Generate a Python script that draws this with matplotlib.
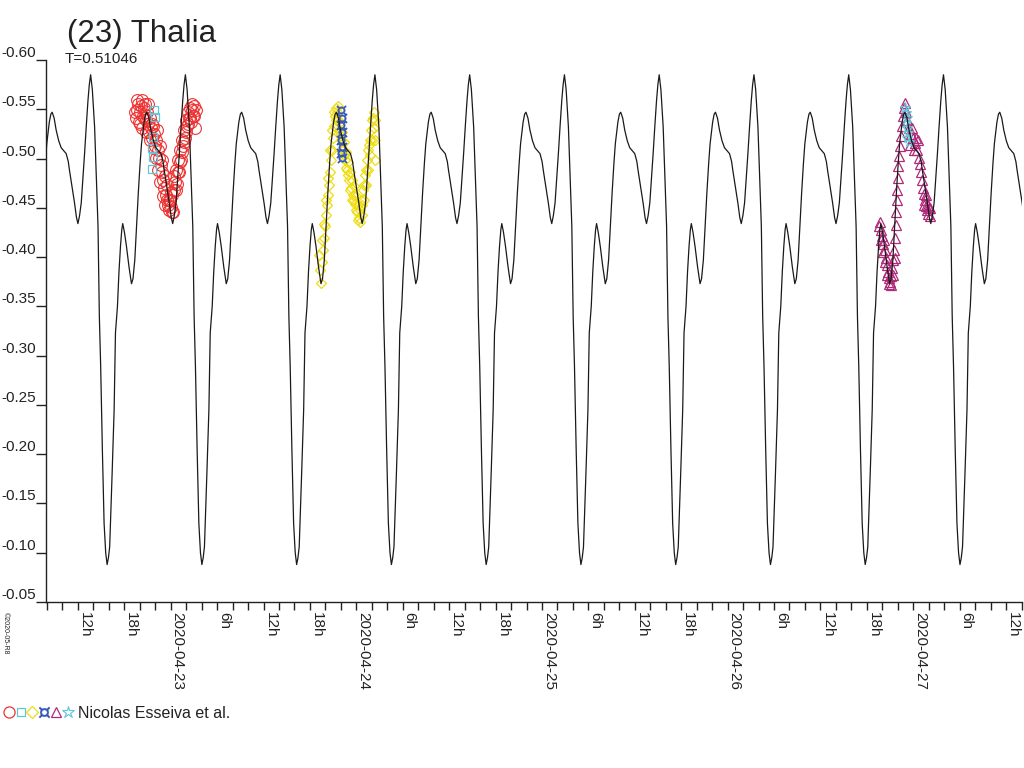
import numpy as np
import matplotlib
matplotlib.use("Agg")
import matplotlib.pyplot as plt
from matplotlib.lines import Line2D
from matplotlib.legend_handler import HandlerTuple

plt.rcParams['font.family'] = ['Liberation Sans', 'DejaVu Sans']

# ---------------- data ----------------
TITLE = "(23) Thalia"
PERIOD_LABEL = "T=0.51046"
PERIOD_DAYS = 0.51046
EPOCH_H = 69.93          # hours since 2020-04-22 00:00 (broad maximum of model)
OBSERVER = "Nicolas Esseiva et al."
COPYRIGHT = "\u00a92020-05-R8"

# one cycle of the model lightcurve (phase fraction, magnitude)
CYCLE_PHASE = [0.000, 0.021, 0.042, 0.069, 0.095, 0.122, 0.148, 0.170, 0.183,
               0.212, 0.236, 0.257, 0.272, 0.289, 0.307, 0.325, 0.342, 0.360,
               0.378, 0.392, 0.406, 0.424, 0.448, 0.466, 0.484, 0.498, 0.512,
               0.530, 0.548, 0.565, 0.580, 0.594, 0.607, 0.633, 0.654, 0.668,
               0.689, 0.705, 0.721, 0.735, 0.745, 0.763, 0.784, 0.811, 0.837,
               0.853, 0.872, 0.890, 0.909, 0.928, 0.943, 0.970, 0.986]
CYCLE_MAG = [-0.547, -0.541, -0.529, -0.518, -0.511, -0.508, -0.505, -0.497, -0.488,
             -0.470, -0.455, -0.440, -0.434, -0.442, -0.455, -0.480, -0.505, -0.533,
             -0.559, -0.575, -0.585, -0.570, -0.532, -0.480, -0.431, -0.340, -0.289,
             -0.204, -0.130, -0.100, -0.088, -0.095, -0.106, -0.181, -0.245, -0.323,
             -0.350, -0.385, -0.411, -0.428, -0.434, -0.425, -0.411, -0.390, -0.373,
             -0.378, -0.397, -0.430, -0.465, -0.495, -0.515, -0.537, -0.545]

# observations: time in hours since 2020-04-22 00:00, magnitude
RED_T = [19.51, 19.64, 19.77, 19.90, 20.03, 20.16, 20.29, 20.42, 20.55, 20.68,
         20.81, 20.94, 21.07, 21.19, 21.32, 21.45, 21.58, 21.71, 21.84, 21.97,
         22.10, 22.23, 22.36, 22.49, 22.62, 22.75, 22.88, 23.00, 23.13, 23.26,
         23.39, 23.52, 23.65, 23.78, 23.91, 24.04, 24.17, 24.30, 24.43, 24.56,
         24.69, 24.82, 24.95, 25.07, 25.20, 25.33, 25.46, 25.59, 25.72, 25.85,
         25.98, 26.11, 26.24, 26.37, 26.50, 26.63, 26.76, 26.89, 27.02, 27.14,
         19.38, 19.64, 20.03, 20.29, 20.55, 20.81, 21.07, 21.32, 21.58, 21.84,
         22.10, 22.36, 22.62, 22.88, 23.00, 23.26, 23.52, 23.78, 24.04, 24.17,
         24.43, 24.69, 24.95, 25.20, 25.46, 25.72, 25.98, 26.24, 26.50, 26.76,
         27.02, 27.27]
RED_M = [-0.541, -0.549, -0.555, -0.537, -0.547, -0.553, -0.531, -0.543, -0.551, -0.555,
         -0.539, -0.547, -0.535, -0.527, -0.541, -0.531, -0.521, -0.533, -0.525, -0.513,
         -0.519, -0.529, -0.509, -0.501, -0.513, -0.493, -0.486, -0.478, -0.470, -0.482,
         -0.463, -0.458, -0.453, -0.448, -0.458, -0.451, -0.463, -0.446, -0.468, -0.476,
         -0.488, -0.474, -0.499, -0.486, -0.509, -0.499, -0.519, -0.513, -0.529, -0.521,
         -0.539, -0.533, -0.547, -0.541, -0.551, -0.537, -0.549, -0.543, -0.553, -0.531,
         -0.547, -0.559, -0.535, -0.559, -0.541, -0.527, -0.555, -0.519, -0.535, -0.511,
         -0.501, -0.488, -0.476, -0.499, -0.462, -0.453, -0.473, -0.458, -0.466, -0.446,
         -0.482, -0.468, -0.486, -0.496, -0.507, -0.517, -0.527, -0.535, -0.541, -0.555,
         -0.543, -0.549]

CYAN_SQ_T = [21.84, 21.97, 21.71, 21.58, 21.71, 21.58]
CYAN_SQ_M = [-0.549, -0.542, -0.522, -0.511, -0.502, -0.489]

YEL_T = [43.30, 43.43, 43.56, 43.69, 43.82, 43.95, 44.08, 44.21, 44.34, 44.47,
         44.59, 44.72, 44.85, 44.98, 45.11, 45.24, 45.37, 45.50, 45.63, 45.76,
         45.89, 46.02, 46.15, 46.27, 46.40, 46.53, 46.66, 46.79, 46.92, 47.05,
         47.18, 47.31, 47.44, 47.57, 47.70, 47.83, 47.96, 48.08, 48.21, 48.34,
         48.47, 48.60, 48.73, 48.86, 48.99, 49.12, 49.25, 49.38, 49.51, 49.64,
         49.76, 49.89, 50.02, 50.15, 50.28, 50.41,
         43.17, 43.56, 43.82, 44.08, 44.34, 44.59, 44.85, 45.11, 45.37, 45.63,
         45.89, 46.15, 46.40, 46.66, 46.92, 47.18, 47.44, 47.70, 47.96, 48.21,
         48.47, 48.73, 48.99, 49.25, 49.51, 49.76, 50.02, 50.28, 50.41, 50.41]
YEL_M = [-0.387, -0.374, -0.395, -0.407, -0.419, -0.432, -0.443, -0.453, -0.463, -0.473,
         -0.486, -0.499, -0.509, -0.521, -0.533, -0.543, -0.551, -0.547, -0.539, -0.529,
         -0.537, -0.519, -0.527, -0.509, -0.517, -0.499, -0.507, -0.488, -0.496, -0.478,
         -0.486, -0.470, -0.478, -0.463, -0.472, -0.454, -0.462, -0.446, -0.453, -0.440,
         -0.448, -0.458, -0.443, -0.468, -0.458, -0.483, -0.473, -0.499, -0.488, -0.514,
         -0.504, -0.529, -0.519, -0.541, -0.531, -0.539,
         -0.402, -0.417, -0.434, -0.458, -0.480, -0.509, -0.529, -0.547, -0.539, -0.553,
         -0.524, -0.509, -0.504, -0.490, -0.483, -0.468, -0.458, -0.458, -0.448, -0.438,
         -0.436, -0.453, -0.473, -0.488, -0.509, -0.519, -0.539, -0.547, -0.519, -0.499]

BLUE_T = [46.02, 46.15, 46.02, 46.15, 46.02, 46.15, 46.02, 46.15]
BLUE_M = [-0.549, -0.541, -0.534, -0.527, -0.519, -0.512, -0.506, -0.501]

MAG_T = [115.70, 115.83, 115.96, 116.09, 116.22, 116.35, 116.47, 116.60, 116.73, 116.86,
         116.99, 117.12, 117.25, 117.38, 117.51, 117.64, 117.77, 117.77, 117.90, 117.90,
         118.03, 118.03, 118.15, 118.28, 118.41, 118.54, 118.67, 118.80, 118.93, 119.06,
         119.19, 119.45, 119.71, 119.96, 120.22, 120.48, 120.61, 120.74, 120.87, 121.00,
         121.13, 121.26, 121.39, 121.51, 121.64, 121.77, 121.90, 122.03, 122.16,
         115.57, 115.83, 116.09, 116.35, 116.60, 116.86, 117.12, 117.38, 117.64, 119.58,
         119.83, 120.09, 120.35, 121.39, 121.64, 121.90, 122.16]
MAG_M = [-0.436, -0.427, -0.421, -0.413, -0.417, -0.407, -0.399, -0.392, -0.385, -0.379,
         -0.375, -0.381, -0.389, -0.397, -0.407, -0.419, -0.433, -0.446, -0.458, -0.468,
         -0.480, -0.492, -0.503, -0.513, -0.523, -0.533, -0.543, -0.551, -0.556, -0.547,
         -0.539, -0.531, -0.525, -0.521, -0.516, -0.509, -0.519, -0.501, -0.494, -0.486,
         -0.478, -0.470, -0.464, -0.458, -0.452, -0.448, -0.444, -0.450, -0.442,
         -0.432, -0.417, -0.405, -0.395, -0.382, -0.373, -0.372, -0.382, -0.399, -0.514,
         -0.531, -0.509, -0.521, -0.453, -0.463, -0.453, -0.450]

STAR_T = [118.93, 119.06, 119.19, 119.06, 119.19, 119.32, 119.19, 119.45]
STAR_M = [-0.551, -0.546, -0.541, -0.536, -0.531, -0.526, -0.521, -0.517]

YTICKS = [-0.60, -0.55, -0.50, -0.45, -0.40, -0.35, -0.30, -0.25, -0.20, -0.15, -0.10, -0.05]
YTICK_LABELS = ["-0.60", "-0.55", "-0.50", "-0.45", "-0.40", "-0.35", "-0.30",
                "-0.25", "-0.20", "-0.15", "-0.10", "-0.05"]
X_START_H, X_END_H = 7.84, 134.02
XTICK_STEP_H = 2
XLABEL_STEP_H = 6

# ---------------- figure ----------------
W, H = 1024, 768
fig = plt.figure(figsize=(W / 100, H / 100), dpi=100)
ax = fig.add_axes([45.7 / W, 1 - 602 / H, (1021.7 - 45.7) / W, (602 - 60) / H])

# model curve
period_h = PERIOD_DAYS * 24
ph = np.array(CYCLE_PHASE)
mg = np.array(CYCLE_MAG)
t_model, m_model = [], []
for k in range(-6, 7):
    t_model.append(EPOCH_H + (k + ph) * period_h)
    m_model.append(mg)
t_model = np.concatenate(t_model)
m_model = np.concatenate(m_model)
ax.plot(t_model, m_model, color='#1a1a1a', lw=0.9, zorder=5)

RED = '#ee3333'
CYAN = '#5fc8d8'
YEL = '#eedd10'
BLUE = '#3558b8'
MAGN = '#b02a7a'

mk = dict(linestyle='none', markerfacecolor='none', zorder=3)
ax.plot(RED_T, RED_M, marker='o', markersize=8.5, markeredgecolor=RED, markeredgewidth=0.8, **mk)
ax.plot(CYAN_SQ_T, CYAN_SQ_M, marker='s', markersize=5.5, markeredgecolor=CYAN, markeredgewidth=0.9, **mk)
ax.plot(YEL_T, YEL_M, marker='D', markersize=5.5, markeredgecolor=YEL, markeredgewidth=0.9, **mk)
ax.plot(BLUE_T, BLUE_M, marker='$\u00a4$', markersize=7, markeredgecolor=BLUE, color=BLUE,
        linestyle='none', markeredgewidth=0.3, zorder=4)
ax.plot(MAG_T, MAG_M, marker='^', markersize=7, markeredgecolor=MAGN, markeredgewidth=0.9, **mk)
ax.plot(STAR_T, STAR_M, marker='*', markersize=8, markeredgecolor=CYAN, markeredgewidth=0.8, **mk)

ax.set_xlim(X_START_H, X_END_H)
ax.set_ylim(-0.05, -0.60)

for s in ['top', 'right']:
    ax.spines[s].set_visible(False)
for s in ['left', 'bottom']:
    ax.spines[s].set_linewidth(1.0)
    ax.spines[s].set_color('#222222')

# x ticks
xt = np.arange(8, X_END_H + 0.01, XTICK_STEP_H)
xl = []
for h in xt:
    h = int(h)
    if h % XLABEL_STEP_H == 0 and h >= 12:
        day, hr = 22 + h // 24, h % 24
        xl.append(f"2020-04-{day:02d}" if hr == 0 else f"{hr}h")
    else:
        xl.append("")
ax.set_xticks(xt)
ax.set_xticklabels(xl)
ax.tick_params(axis='x', direction='out', length=5.5, width=1.0, pad=2,
               labelsize=11, labelrotation=-90, colors='#222222')
for lab in ax.get_xticklabels():
    lab.set_ha('left')
    lab.set_va('top')

# y ticks
ax.set_yticks(YTICKS)
ax.set_yticklabels(YTICK_LABELS)
ax.tick_params(axis='y', direction='out', length=7.2, width=1.0, pad=0,
               labelsize=11, colors='#222222')
for lab in ax.get_yticklabels():
    lab.set_va('bottom')

# texts
fig.text(67 / W, 1 - 42 / H, TITLE, fontsize=22.5, color='#222222', va='baseline', ha='left')
fig.text(65 / W, 1 - 63 / H, PERIOD_LABEL, fontsize=11, color='#222222', va='baseline', ha='left')
fig.text(2 / W, 1 - 612 / H, COPYRIGHT, fontsize=5, rotation=-90, ha='left', va='top', color='#222222')

# legend row
hnd = (
    Line2D([], [], marker='o', markersize=8, markerfacecolor='none', markeredgecolor=RED, linestyle='none', markeredgewidth=0.9),
    Line2D([], [], marker='s', markersize=6, markerfacecolor='none', markeredgecolor=CYAN, linestyle='none', markeredgewidth=0.9),
    Line2D([], [], marker='D', markersize=6, markerfacecolor='none', markeredgecolor=YEL, linestyle='none', markeredgewidth=0.9),
    Line2D([], [], marker='$\u00a4$', markersize=8, color=BLUE, markeredgecolor=BLUE, linestyle='none', markeredgewidth=0.3),
    Line2D([], [], marker='^', markersize=7, markerfacecolor='none', markeredgecolor=MAGN, linestyle='none', markeredgewidth=0.9),
    Line2D([], [], marker='*', markersize=9, markerfacecolor='none', markeredgecolor=CYAN, linestyle='none', markeredgewidth=0.8),
)
fig.legend([hnd], [OBSERVER], handler_map={tuple: HandlerTuple(ndivide=None, pad=0.0)},
           loc='center left', bbox_to_anchor=(0 / W, 1 - 713 / H), frameon=False,
           fontsize=11.5, handlelength=4.4, handletextpad=0.3, borderaxespad=0,
           borderpad=0.2, labelcolor='#222222')

fig.savefig("out.png", dpi=100)
